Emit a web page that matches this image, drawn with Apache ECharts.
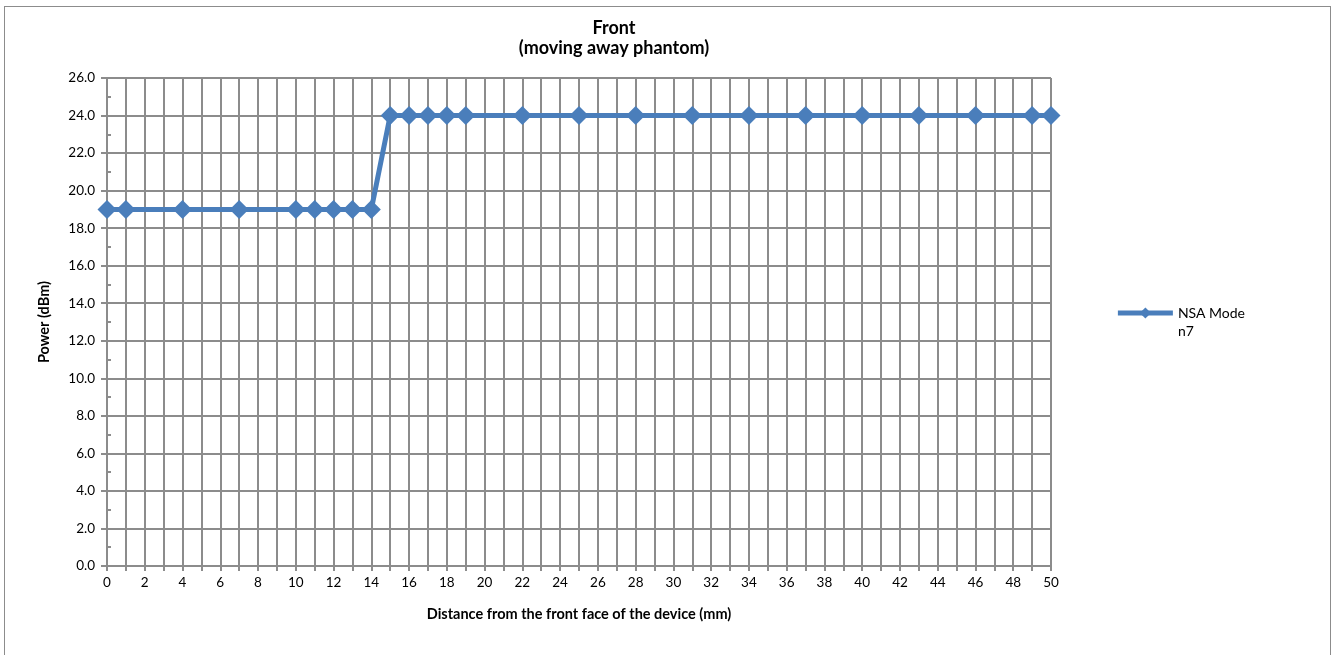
<!DOCTYPE html>
<html>
<head>
<meta charset="utf-8">
<script src="https://cdn.jsdelivr.net/npm/echarts@6/dist/echarts.min.js"></script>
<style>
html,body{margin:0;padding:0;background:#fff;}
#frame{position:absolute;left:4px;top:6px;width:1327px;height:700px;border:1px solid #8c8c8c;box-sizing:border-box;}
#chart{position:absolute;left:0;top:0;width:1334px;height:655px;}
</style>
</head>
<body>
<div id="frame"></div>
<div id="chart"></div>
<script>
const distances = [0, 1, 4, 7, 10, 11, 12, 13, 14, 15, 16, 17, 18, 19, 22, 25, 28, 31, 34, 37, 40, 43, 46, 49, 50];
const power =     [19, 19, 19, 19, 19, 19, 19, 19, 19, 24, 24, 24, 24, 24, 24, 24, 24, 24, 24, 24, 24, 24, 24, 24, 24];
const seriesName = 'NSA Mode n7';
const legendLines = ['NSA Mode', 'n7'];
const titleLines = ['Front', '(moving away phantom)'];
const xAxisTitle = 'Distance from the front face of the device (mm)';
const yAxisTitle = 'Power (dBm)';

const font = 'Lato, "Open Sans", sans-serif';
const gray = '#8c8c8c';
const blue = '#4a7ebb';

const chart = echarts.init(document.getElementById('chart'), null, {renderer: 'canvas'});
chart.setOption({
  backgroundColor: 'transparent',
  animation: false,
  title: {
    text: titleLines.join('\n'),
    left: 609, top: 13, textAlign: 'center',
    textStyle: {fontFamily: font, fontWeight: 'bold', fontSize: 18, color: '#000', lineHeight: 20}
  },
  legend: {
    right: 84, top: 301, orient: 'vertical',
    itemWidth: 55, itemHeight: 14, itemGap: 4,
    lineStyle: {width: 5},
    formatter: () => legendLines[0],
    textStyle: {fontFamily: font, fontSize: 14, color: '#000'},
    data: [seriesName]
  },
  graphic: [{
    type: 'text', left: 1178, top: 324,
    style: {text: legendLines[1], fontFamily: font, fontSize: 14, fill: '#000'}
  }],
  grid: {left: 107, top: 78, right: 283, bottom: 89, containLabel: false},
  xAxis: {
    type: 'value', min: 0, max: 50, interval: 1,
    name: xAxisTitle, nameLocation: 'middle', nameGap: 41,
    nameTextStyle: {fontFamily: font, fontWeight: 'bold', fontSize: 14.5, color: '#000'},
    axisLine: {show: true, lineStyle: {color: gray, width: 2}},
    axisTick: {show: true, length: 5, lineStyle: {color: gray, width: 2}},
    axisLabel: {fontFamily: font, fontSize: 13.5, color: '#000', margin: 10,
      formatter: v => (v % 2 === 0 ? String(v) : '')},
    splitLine: {show: true, lineStyle: {color: gray, width: 2}}
  },
  yAxis: [{
    type: 'value', min: 0, max: 26, interval: 2,
    name: yAxisTitle, nameLocation: 'middle', nameGap: 55, nameRotate: 90,
    nameTextStyle: {fontFamily: font, fontWeight: 'bold', fontSize: 14.5, color: '#000'},
    axisLine: {show: true, lineStyle: {color: gray, width: 2}},
    axisTick: {show: true, length: 6, lineStyle: {color: gray, width: 2}},
    axisLabel: {fontFamily: font, fontSize: 13.5, color: '#000', margin: 12,
      formatter: v => v.toFixed(1)},
    splitLine: {show: true, lineStyle: {color: gray, width: 2}}
  }, {
    type: 'value', min: 0, max: 26, interval: 1, position: 'left',
    axisLine: {show: false},
    axisTick: {show: true, inside: true, length: 4, lineStyle: {color: gray, width: 2}},
    axisLabel: {show: false},
    splitLine: {show: false}
  }],
  series: [{
    name: seriesName, type: 'line', yAxisIndex: 0,
    data: distances.map((d, i) => [d, power[i]]),
    symbol: 'diamond', symbolSize: 19,
    lineStyle: {color: blue, width: 5},
    itemStyle: {color: blue},
    clip: false
  }]
});
</script>
</body>
</html>
